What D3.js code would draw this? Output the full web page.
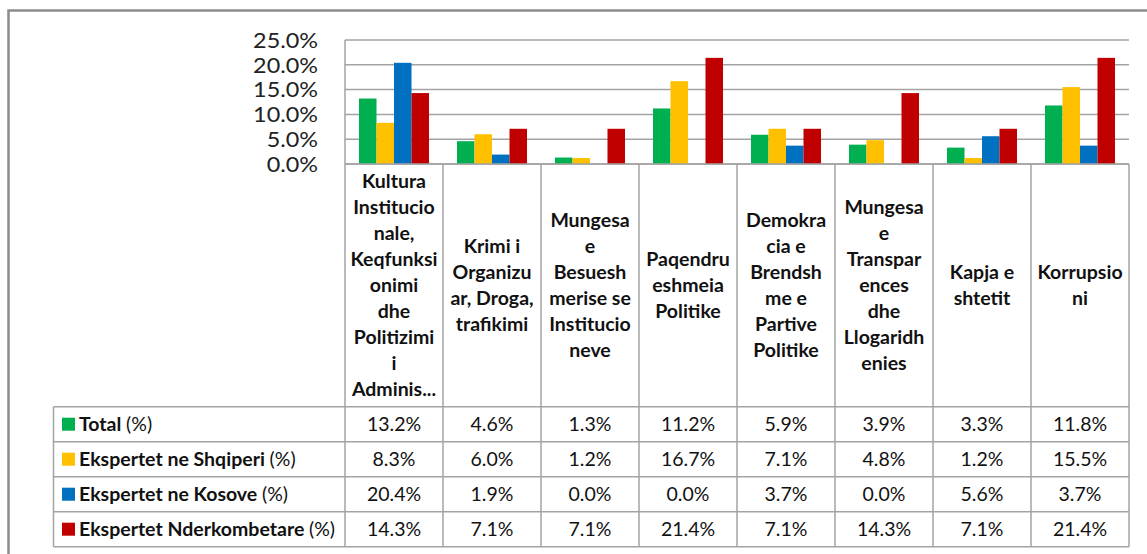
<!DOCTYPE html>
<html>
<head>
<meta charset="utf-8">
<script src="https://cdn.jsdelivr.net/npm/d3@7"></script>
<style>
  html, body { margin: 0; padding: 0; background: #fff; }
  svg { display: block; font-family: "Lato", "Open Sans", sans-serif; }
</style>
</head>
<body>
<svg id="chart" width="1147" height="554"></svg>
<script>
// ---------------- DATA ----------------
const categories = [
  "Kultura Institucionale, Keqfunksionimi dhe Politizimi i Administrates",
  "Krimi i Organizuar, Droga, trafikimi",
  "Mungesa e Besueshmerise se Institucioneve",
  "Paqendrueshmeia Politike",
  "Demokracia e Brendshme e Partive Politike",
  "Mungesa e Transparences dhe Llogaridhenies",
  "Kapja e shtetit",
  "Korrupsioni"
];
// category labels as wrapped in the original picture
const categoryLines = [
  ["Kultura", "Institucio", "nale,", "Keqfunksi", "onimi", "dhe", "Politizimi", "i", "Adminis..."],
  ["Krimi i", "Organizu", "ar, Droga,", "trafikimi"],
  ["Mungesa", "e", "Besuesh", "merise se", "Institucio", "neve"],
  ["Paqendru", "eshmeia", "Politike"],
  ["Demokra", "cia e", "Brendsh", "me e", "Partive", "Politike"],
  ["Mungesa", "e", "Transpar", "ences", "dhe", "Llogaridh", "enies"],
  ["Kapja e", "shtetit"],
  ["Korrupsio", "ni"]
];
const seriesNames = ["Total", "Ekspertet ne Shqiperi", "Ekspertet ne Kosove", "Ekspertet Nderkombetare"];
const seriesColors = ["#00B050", "#FFC000", "#0070C0", "#C00000"];
const total      = [13.2, 4.6, 1.3, 11.2, 5.9, 3.9, 3.3, 11.8];
const shqiperi   = [8.3, 6.0, 1.2, 16.7, 7.1, 4.8, 1.2, 15.5];
const kosove     = [20.4, 1.9, 0.0, 0.0, 3.7, 0.0, 5.6, 3.7];
const nderkomb   = [14.3, 7.1, 7.1, 21.4, 7.1, 14.3, 7.1, 21.4];
const seriesValues = [total, shqiperi, kosove, nderkomb];
const yTicks = [0, 5, 10, 15, 20, 25];

// ---------------- LAYOUT ----------------
const plotLeft = 345, plotRight = 1129, plotTop = 40, plotBottom = 164;
const headerBottom = 406.7;
const tableLeft = 53.5;
const rowH = 35;
const gridColor = "#a3a3a3";

const svg = d3.select("#chart");

// outer border (extends beyond right/bottom edges like the reference crop)
svg.append("rect")
  .attr("x", 8.5).attr("y", 10.5)
  .attr("width", 1160).attr("height", 560)
  .attr("fill", "#fff")
  .attr("stroke", "#8c8c8c").attr("stroke-width", 2.5);

const x0 = d3.scaleBand().domain(categories).range([plotLeft, plotRight]).paddingInner(0).paddingOuter(0);
const x1 = d3.scaleBand().domain(seriesNames).range([0, x0.bandwidth()]).paddingInner(0).paddingOuter(0.8);
const y = d3.scaleLinear().domain([0, 25]).range([plotBottom, plotTop]);
const fmt = d => d3.format(".1f")(d) + "%";

// gridlines
svg.append("g").selectAll("line").data(yTicks).join("line")
  .attr("x1", plotLeft).attr("x2", plotRight)
  .attr("y1", d => y(d)).attr("y2", d => y(d))
  .attr("stroke", gridColor).attr("stroke-width", 1.5);

// y-axis labels via d3 axis
const yAxis = d3.axisLeft(y).tickValues(yTicks).tickFormat(fmt).tickSize(0).tickPadding(0);
const yg = svg.append("g").attr("transform", `translate(318,0)`).call(yAxis);
yg.select(".domain").remove();
yg.selectAll("text")
  .attr("font-family", "Lato, 'Open Sans', sans-serif")
  .attr("font-size", 20.5)
  .attr("fill", "#222")
  .attr("dy", "0.36em")
  .each(function() {
    const w = this.getComputedTextLength();
    d3.select(this).attr("textLength", w * 1.14).attr("lengthAdjust", "spacingAndGlyphs");
  });

// bars
const groups = svg.append("g").selectAll("g").data(categories).join("g")
  .attr("transform", d => `translate(${x0(d)},0)`);
groups.selectAll("rect")
  .data((c, ci) => seriesNames.map((s, si) => ({ s, si, v: seriesValues[si][ci] })))
  .join("rect")
  .attr("x", d => x1(d.s))
  .attr("width", x1.bandwidth())
  .attr("y", d => y(d.v))
  .attr("height", d => y(0) - y(d.v))
  .attr("fill", d => seriesColors[d.si]);

// ---------------- DATA TABLE ----------------
const rowsY = d3.scaleBand().domain(seriesNames).range([headerBottom, headerBottom + rowH * seriesNames.length]);
const tableBottom = headerBottom + rowH * seriesNames.length;
const lines = svg.append("g").attr("stroke", gridColor).attr("stroke-width", 1.5);

// axis line at 0 and left plot border
lines.append("line").attr("x1", plotLeft).attr("x2", plotRight).attr("y1", plotBottom).attr("y2", plotBottom);
// vertical column lines
const colEdges = categories.map(c => x0(c)).concat([plotRight]);
lines.selectAll("line.v").data(colEdges).join("line").attr("class", "v")
  .attr("x1", d => d).attr("x2", d => d)
  .attr("y1", (d, i) => i === 0 ? plotTop : plotBottom)
  .attr("y2", tableBottom);
// horizontal row lines
const rowEdges = [headerBottom].concat(seriesNames.map(s => rowsY(s) + rowsY.bandwidth()));
lines.selectAll("line.h").data(rowEdges).join("line").attr("class", "h")
  .attr("x1", tableLeft).attr("x2", plotRight)
  .attr("y1", d => d).attr("y2", d => d);
lines.append("line").attr("x1", tableLeft).attr("x2", tableLeft).attr("y1", headerBottom).attr("y2", tableBottom);

// category labels
const lineH = 26;
const headerMid = (plotBottom + headerBottom) / 2;
categories.forEach((c, ci) => {
  const ls = categoryLines[ci];
  const t = svg.append("text")
    .attr("x", x0(c) + x0.bandwidth() / 2)
    .attr("text-anchor", "middle")
    .attr("font-size", 19.5)
    .attr("font-weight", "bold")
    .attr("fill", "#111");
  ls.forEach((l, li) => {
    t.append("tspan")
      .attr("x", x0(c) + x0.bandwidth() / 2)
      .attr("y", headerMid + (li - (ls.length - 1) / 2) * lineH)
      .attr("dy", "0.36em")
      .text(l);
  });
});

// row legend keys + labels
seriesNames.forEach((s, si) => {
  const cy = rowsY(s) + rowsY.bandwidth() / 2;
  svg.append("rect").attr("x", 62).attr("y", cy - 6.5).attr("width", 13).attr("height", 13)
    .attr("fill", seriesColors[si]);
  const t = svg.append("text").attr("x", 79).attr("y", cy).attr("dy", "0.36em")
    .attr("font-size", 19.5).attr("fill", "#111");
  t.append("tspan").attr("font-weight", "bold").text(s + " ");
  t.append("tspan").attr("font-weight", "normal").text("(%)");
  // values
  svg.append("g").selectAll("text").data(categories).join("text")
    .attr("x", c => x0(c) + x0.bandwidth() / 2)
    .attr("y", cy).attr("dy", "0.36em")
    .attr("text-anchor", "middle")
    .attr("font-size", 19.5).attr("fill", "#111")
    .text((c, ci) => fmt(seriesValues[si][ci]));
});
</script>
</body>
</html>
